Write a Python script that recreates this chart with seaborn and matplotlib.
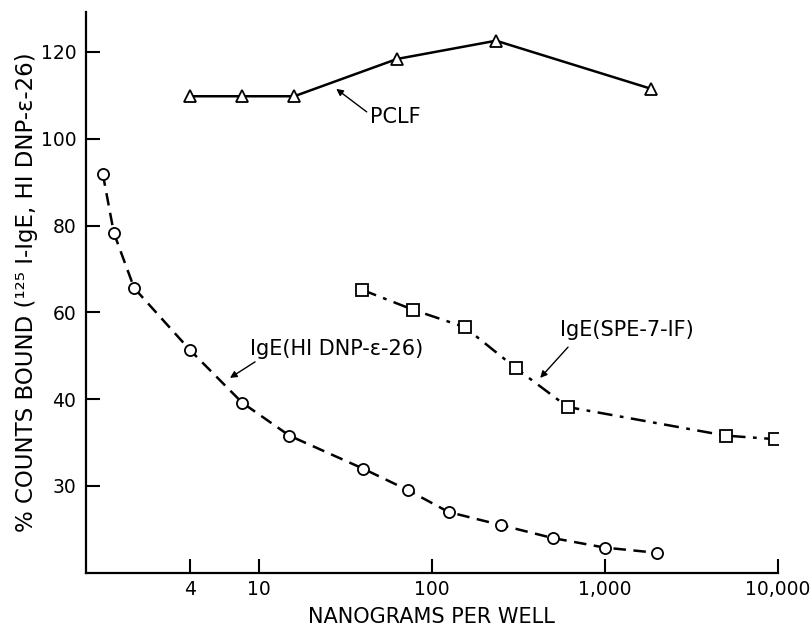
import numpy as np
import matplotlib
matplotlib.use('Agg')
import matplotlib.pyplot as plt
import seaborn as sns

# IgE (HI DNP-e-26), open circles, dashed
hidnp_ng = [1.25, 1.45, 1.9, 4, 8, 15, 40, 73, 125, 250, 500, 1000, 2000]
hidnp_pct = [92, 78.3, 65.6, 51.3, 39.6, 35.8, 32.0, 29.5, 27.0, 25.5, 24.0, 22.9, 22.3]

# IgE (SPE-7-1F), open squares, dash-dot
spe_ng = [39.5, 78, 155, 305, 610, 5000, 9600]
spe_pct = [65.2, 60.6, 56.6, 47.2, 39.1, 35.8, 35.4]

# PCLF, open triangles, solid
pclf_ng = [4, 8, 16, 63, 235, 1860]
pclf_pct = [109.8, 109.8, 109.8, 118.4, 122.6, 111.5]

xticks = [4, 10, 100, 1000, 10000]
xticklabels = ['4', '10', '100', '1,000', '10,000']
yticks = [30, 40, 60, 80, 100, 120]


# the printed y axis: 30-40 gets the same length as 40-60
def fwd(v):
    v = np.asarray(v, dtype=float)
    return np.where(v >= 40, v, 2 * v - 40)


def inv(f):
    f = np.asarray(f, dtype=float)
    return np.where(f >= 40, f, (f + 40) / 2)


sns.set_style('ticks')
plt.rcParams['font.family'] = ['DejaVu Sans']
plt.rcParams['text.color'] = 'black'
plt.rcParams['axes.labelcolor'] = 'black'

fig = plt.figure(figsize=(8.11, 6.35), dpi=100)
ax = fig.add_axes([0.106, 0.098, 0.853, 0.883])

common = dict(ax=ax, color='black', markersize=8, markerfacecolor='white',
              markeredgecolor='black', markeredgewidth=1.3, linewidth=1.8)
sns.lineplot(x=hidnp_ng, y=hidnp_pct, marker='o', linestyle=(0, (5, 3)), **common)
sns.lineplot(x=spe_ng, y=spe_pct, marker='s', linestyle=(0, (6, 3, 1.5, 3)), **common)
sns.lineplot(x=pclf_ng, y=pclf_pct, marker='^', linestyle='-', **common)

ax.set_xscale('log')
ax.set_yscale('function', functions=(fwd, inv))
ax.set_xlim(1, 10000)
ax.set_ylim(20, 129.2)

ax.set_xticks(xticks)
ax.set_xticklabels(xticklabels)
ax.xaxis.set_minor_locator(matplotlib.ticker.NullLocator())
ax.set_yticks(yticks)
ax.set_yticklabels([str(t) for t in yticks])
ax.yaxis.set_minor_locator(matplotlib.ticker.NullLocator())
ax.tick_params(direction='in', length=10, width=1.5, labelsize=13.5, colors='black')
ax.tick_params(axis='x', pad=5)
ax.tick_params(axis='y', pad=7)

for s in ['top', 'right']:
    ax.spines[s].set_visible(False)
for s in ['left', 'bottom']:
    ax.spines[s].set_linewidth(1.6)
    ax.spines[s].set_color('black')

ax.set_xlabel('NANOGRAMS PER WELL', fontsize=15, labelpad=6)
ax.set_ylabel('% COUNTS BOUND (\u00b9\u00b2\u2075 I-IgE, HI DNP-\u03b5-26)',
              fontsize=16.5, labelpad=2)

arrow = dict(arrowstyle='-|>', color='black', lw=1.0, mutation_scale=10,
             shrinkA=0, shrinkB=0)
ax.text(44, 105.0, 'PCLF', fontsize=15, ha='left', va='center')
ax.annotate('', xy=(28, 111.5), xytext=(42, 106.2), arrowprops=arrow)

ax.text(8.9, 51.6, 'IgE(HI DNP-\u03b5-26)', fontsize=15, ha='left', va='center')
ax.annotate('', xy=(6.8, 44.9), xytext=(9.5, 48.6), arrowprops=arrow)

ax.text(551, 55.9, 'IgE(SPE-7-IF)', fontsize=15, ha='left', va='center')
ax.annotate('', xy=(423, 44.9), xytext=(613, 52.0), arrowprops=arrow)

fig.savefig('out.png', dpi=100)
